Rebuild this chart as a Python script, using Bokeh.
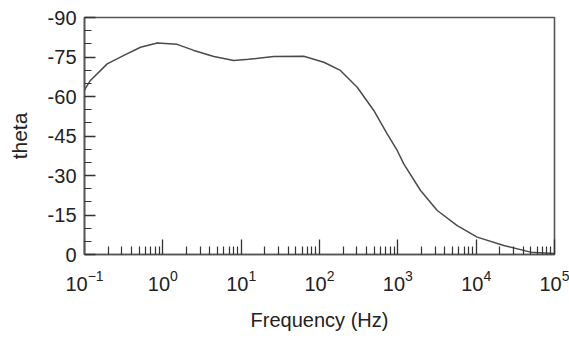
from bokeh.plotting import figure
from bokeh.models import Range1d, FixedTicker
from bokeh.embed import file_html
from bokeh.resources import INLINE

# Data (Bode phase curve)
freq = [0.1, 0.119, 0.195, 0.318, 0.519, 0.848, 1.52, 2.49, 4.48, 8.05, 12.5,
        26.1, 63, 113.5, 185, 303, 493, 731, 982, 1190, 1950, 3185, 5730,
        10300, 22500, 49400, 100000]
theta = [-62.5, -66.1, -72.4, -75.6, -78.7, -80.3, -79.8, -77.5, -75.2, -73.7,
         -74.1, -75.2, -75.3, -73.0, -69.9, -63.5, -54.7, -45.8, -39.5, -34.4,
         -24.3, -16.7, -11.0, -6.6, -3.4, -0.9, -0.4]

y_ticks = [-90, -75, -60, -45, -30, -15, 0]
y_labels = ["-90", "-75", "-60", "-45", "-30", "-15", "0"]
y_minor = [-85, -80, -70, -65, -55, -50, -40, -35, -25, -20, -10, -5]
x_ticks = [0.1, 1, 10, 100, 1000, 10000, 100000]
x_minor = [m * 10.0 ** e for e in range(-1, 5) for m in range(2, 10)]

FONT = "Liberation Sans"

p = figure(width=569, height=339, x_axis_type="log",
           x_range=Range1d(0.1, 1e5), y_range=Range1d(0, -90),
           output_backend="svg", toolbar_location=None,
           min_border_left=84, min_border_right=15,
           min_border_top=17, min_border_bottom=85)

p.line(freq, theta, line_color="#4a4a4a", line_width=1.5)

p.grid.visible = False
p.outline_line_color = "#555555"
p.outline_line_width = 1.6

for ax in (p.xaxis[0], p.yaxis[0]):
    ax.axis_line_color = "#555555"
    ax.axis_line_width = 1.6
    ax.major_tick_line_color = "#333333"
    ax.minor_tick_line_color = "#333333"
    ax.major_tick_line_width = 1.3
    ax.minor_tick_line_width = 1.2
    ax.major_tick_out = 0
    ax.minor_tick_out = 0
    ax.major_label_text_font = FONT
    ax.major_label_text_font_size = "20px"
    ax.major_label_text_color = "#222222"
    ax.axis_label_text_font = FONT
    ax.axis_label_text_font_size = "20px"
    ax.axis_label_text_font_style = "normal"
    ax.axis_label_text_color = "#222222"

p.xaxis.ticker = FixedTicker(ticks=x_ticks, minor_ticks=x_minor)
p.xaxis.major_tick_in = 15
p.xaxis.minor_tick_in = 8
p.xaxis.major_label_standoff = 15
p.xaxis.axis_label = "Frequency (Hz)"
p.xaxis.axis_label_standoff = 15

p.yaxis.ticker = FixedTicker(ticks=y_ticks, minor_ticks=y_minor)
p.yaxis.major_label_overrides = dict(zip(y_ticks, y_labels))
p.yaxis.major_tick_in = 11
p.yaxis.minor_tick_in = 7
p.yaxis.major_label_standoff = 8
p.yaxis.axis_label = "theta"
p.yaxis.axis_label_text_font_size = "21px"
p.yaxis.axis_label_standoff = 14

open("out.html", "w").write(file_html(p, INLINE))
